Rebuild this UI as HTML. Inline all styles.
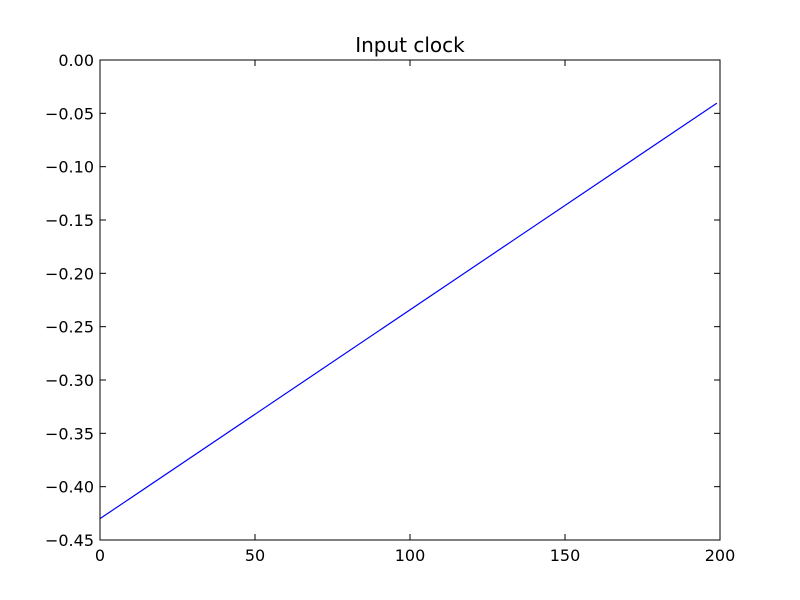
<!DOCTYPE html>
<html><head><meta charset="utf-8"><style>
html,body{margin:0;padding:0;background:#fff;}
svg{display:block;font-family:"DejaVu Sans","Liberation Sans",sans-serif;}
</style></head><body>
<svg id="chart" width="800" height="600" viewBox="0 0 800 600">
<rect x="0" y="0" width="800" height="600" fill="#fff"/>
<g id="ticks"></g>
<path id="line" fill="none" stroke="#0000ff" stroke-width="1.2"/>
<rect x="100" y="60" width="620" height="480" fill="none" stroke="#000" stroke-width="1"/>
<text x="410" y="52" text-anchor="middle" font-size="20">Input clock</text>
</svg>
<script>
const xValues = [0, 199];
const yValues = [-0.43, -0.0404];
const xTicks = [0, 50, 100, 150, 200];
const yTicks = [0, -0.05, -0.10, -0.15, -0.20, -0.25, -0.30, -0.35, -0.40, -0.45];
const xTickLabels = ["0", "50", "100", "150", "200"];
const yTickLabels = ["0.00", "\u22120.05", "\u22120.10", "\u22120.15", "\u22120.20", "\u22120.25", "\u22120.30", "\u22120.35", "\u22120.40", "\u22120.45"];

const L=100,R=720,T=60,B=540;
const xMin=0,xMax=200,yMin=-0.45,yMax=0;
function sx(v){return L+(v-xMin)/(xMax-xMin)*(R-L);}
function sy(v){return B-(v-yMin)/(yMax-yMin)*(B-T);}
const NS="http://www.w3.org/2000/svg";
const g=document.getElementById('ticks');
function mk(tag,attrs){const e=document.createElementNS(NS,tag);for(const k in attrs)e.setAttribute(k,attrs[k]);return e;}
xTicks.forEach((t,i)=>{
  const x=sx(t);
  const a=mk('line',{x1:x,x2:x,y1:B,y2:B-6,stroke:'#000'});
  
  
  g.appendChild(a);
  const b=mk('line',{x1:x,x2:x,y1:T,y2:T+6,stroke:'#000'});
  
  
  g.appendChild(b);
  const tx=mk('text',{x:x,y:B+21,'text-anchor':'middle','font-size':'16'});
  tx.textContent=xTickLabels[i];
  
  
  g.appendChild(tx);
});
yTicks.forEach((t,i)=>{
  const y=sy(t);
  const a=mk('line',{x1:L,x2:L+6,y1:y,y2:y,stroke:'#000'});
  
  
  g.appendChild(a);
  const b=mk('line',{x1:R,x2:R-6,y1:y,y2:y,stroke:'#000'});
  
  
  g.appendChild(b);
  const tx=mk('text',{x:L-6,y:y+6,'text-anchor':'end','font-size':'16'});
  tx.textContent=yTickLabels[i];
  
  
  g.appendChild(tx);
});
document.getElementById('line').setAttribute('d',xValues.map((v,i)=>(i?'L':'M')+sx(v)+','+sy(yValues[i])).join(' '));
</script>
</body></html>
